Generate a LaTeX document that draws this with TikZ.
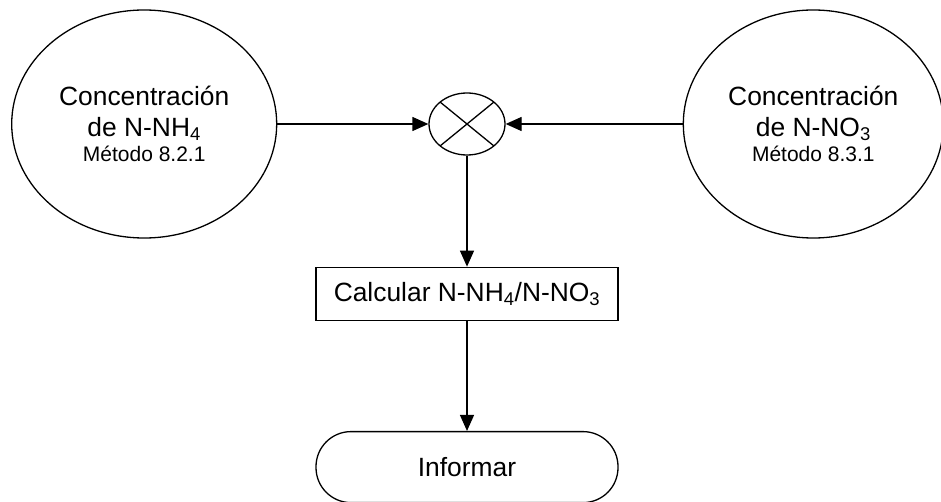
\documentclass[tikz,border=0pt]{standalone}
\usepackage{fontspec}
\setmainfont{Liberation Sans}
\usepackage{tikz}
\usetikzlibrary{
  shapes.geometric,
  arrows.meta,
  positioning
}
\newcommand{\txtgrande}{\fontsize{26.4pt}{31pt}\selectfont}
\newcommand{\txtmetodo}{\fontsize{21pt}{25pt}\selectfont}
\tikzset{
  %%── nodos de datos (elipses) ──────────────────────────────
  dato/.style = {
    ellipse, draw, line width = 1.3pt,
    minimum width = 265pt, minimum height = 228pt,
    inner sep = 0pt, align = center, font = \txtgrande
  },
  %%── nodo de combinación (elipse con aspa) ─────────────────
  suma/.style = {
    ellipse, draw, line width = 1.3pt,
    minimum width = 76pt, minimum height = 62pt, inner sep = 0pt,
    path picture = {
      \draw[line width = 1.3pt]
        (path picture bounding box.north west) -- (path picture bounding box.south east)
        (path picture bounding box.south west) -- (path picture bounding box.north east);
    }
  },
  %%── proceso y terminal ────────────────────────────────────
  proc/.style = {
    rectangle, draw, line width = 1.3pt,
    minimum width = 302pt, minimum height = 53pt,
    align = center, font = \txtgrande
  },
  term/.style = {
    rectangle, rounded corners = 35pt, draw, line width = 1.3pt,
    minimum width = 302pt, minimum height = 71pt,
    align = center, font = \txtgrande
  },
  %%── flechas ───────────────────────────────────────────────
  arr/.style = {-{Triangle[length = 16pt, width = 14pt]}, line width = 1.3pt},
}

\begin{document}
\begin{tikzpicture}[node distance = 111pt and 151pt]

  \useasboundingbox (0,0) rectangle (941pt,-502pt);

  \node[suma] (suma) at (467pt,-124pt) {};

  %% las dos concentraciones
  \node[dato, left=151pt of suma] (nh4)
    {Concentración\\de N-NH\textsubscript{4}\\[-6pt]{\txtmetodo Método 8.2.1}};
  \node[dato, minimum width = 260pt, right=177pt of suma] (no3)
    {Concentración\\de N-NO\textsubscript{3}\\[-6pt]{\txtmetodo Método 8.3.1}};

  \node[proc, below=111pt of suma] (calc)
    {Calcular N-NH\textsubscript{4}/N-NO\textsubscript{3}};
  \node[term, below=110pt of calc] (informe)
    {Informar};

  %% flechas
  \draw[arr] (nh4) -- (suma);
  \draw[arr] (no3) -- (suma);
  \draw[arr] (suma) -- (calc);
  \draw[arr] (calc) -- (informe);

\end{tikzpicture}
\end{document}
